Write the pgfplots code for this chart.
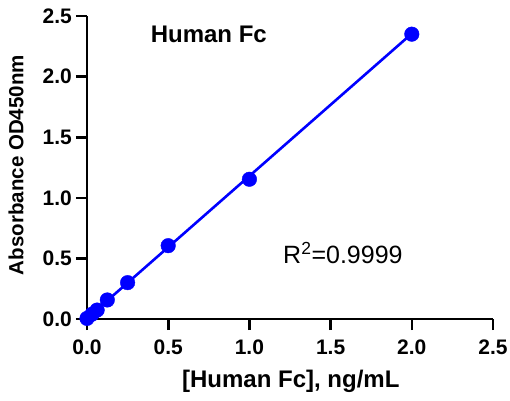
\documentclass[border=0pt]{standalone}
\usepackage{pgfplots}
\pgfplotsset{compat=1.18}
\usepackage{fontspec}
\setmainfont{Liberation Sans}
\begin{document}
\begin{tikzpicture}
\begin{axis}[
  at={(0,0)}, anchor=south west,
  scale only axis, width=406pt, height=303pt,
  xmin=0, xmax=2.5, ymin=0, ymax=2.5,
  axis x line=bottom, axis y line=left,
  axis line style={-, line width=2.6pt, black},
  xtick={0,0.5,...,2.5}, ytick={0,0.5,...,2.5},
  tick align=outside, major tick length=11pt,
  tick style={line width=2.6pt, black},
  /pgf/number format/assume math mode=true,
  /pgf/number format/fixed, /pgf/number format/fixed zerofill,
  /pgf/number format/precision=1,
  xticklabel style={font=\fontsize{21}{21}\selectfont\bfseries, inner sep=0pt, yshift=-10pt},
  yticklabel style={font=\fontsize{21}{21}\selectfont\bfseries, inner sep=0pt, xshift=-4pt},
  xlabel={[Human Fc], ng/mL},
  xlabel style={font=\fontsize{24}{24}\selectfont\bfseries, at={(axis description cs:0.502,-0.205)}, anchor=center, inner sep=0pt},
  ylabel={Absorbance OD450nm},
  ylabel style={font=\fontsize{20.5}{20.5}\selectfont\bfseries, at={(axis description cs:-0.175,0.508)}, anchor=center, inner sep=0pt},
  title={Human Fc},
  title style={font=\fontsize{24}{24}\selectfont\bfseries, at={(axis description cs:0.30,0.921)}, anchor=center, inner sep=0pt},
  clip=false,
]
\addplot[blue, line width=2.6pt, forget plot] coordinates {(0,0.005) (2,2.355)};
\addplot[color=blue, only marks, mark=*, mark size=7.3pt, mark options={draw=none, fill=blue}] coordinates {
  (0,0.005) (0.03125,0.04) (0.0625,0.074) (0.125,0.157) (0.25,0.30) (0.5,0.605) (1,1.153) (2,2.35)
};
\node[anchor=base west, font=\fontsize{25}{25}\selectfont, inner sep=0pt] at (axis cs:1.207,0.46) {R\textsuperscript{2}=0.9999};
\end{axis}
\pgfresetboundingbox
\path (-87pt,-81pt) rectangle (423pt,319pt);
\end{tikzpicture}
\end{document}
